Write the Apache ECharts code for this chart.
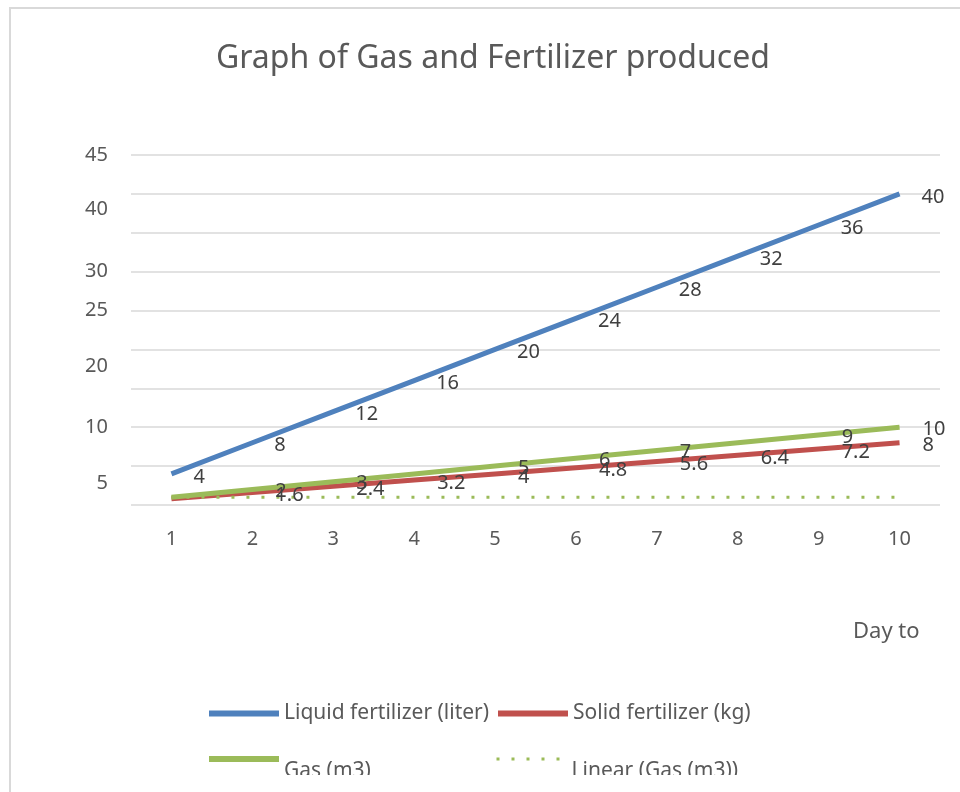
<!DOCTYPE html>
<html>
<head>
<meta charset="utf-8">
<script src="https://cdn.jsdelivr.net/npm/echarts@6/dist/echarts.min.js"></script>
<style>
  html, body { margin: 0; padding: 0; background: #fff; }
  #wrap { position: relative; width: 960px; height: 792px; overflow: hidden; }
  #chart { position: absolute; left: 0; top: 0; width: 960px; height: 775px; }
  #frame { position: absolute; left: 9px; top: 7px; width: 951px; height: 785px;
           border-left: 2px solid #d9d9d9; border-top: 2px solid #d9d9d9; pointer-events: none; }
</style>
</head>
<body>
<div id="wrap">
  <div id="chart"></div>
  <div id="frame"></div>
</div>
<script>
var days = ['1', '2', '3', '4', '5', '6', '7', '8', '9', '10'];
var liquid = [4, 8, 12, 16, 20, 24, 28, 32, 36, 40];
var solid = [0.8, 1.6, 2.4, 3.2, 4, 4.8, 5.6, 6.4, 7.2, 8];
var gas = [1, 2, 3, 4, 5, 6, 7, 8, 9, 10];
var gasLinear = [1, 1, 1, 1, 1, 1, 1, 1, 1, 1];

// y labels in the original sit a bit off the grid lines
var yLabelAt = [45, 38, 30, 25, 17.8, 10, 2.8];
var yLabelText = ['45', '40', '30', '25', '20', '10', '5'];

// data labels that are not shown in the original
var solidNoLabel = [0];
var gasNoLabel = [0, 3, 7];

var font = 'Noto Sans';
var labelStyle = function (skip, dist, off) {
    return {
        show: true,
        position: 'right',
        distance: dist,
        offset: off,
        fontFamily: font,
        fontSize: 20,
        color: '#404040',
        formatter: function (p) {
            return skip.indexOf(p.dataIndex) >= 0 ? '' : String(p.value);
        }
    };
};

// one legend per entry, laid out like the excel 2x2 block
var legendItem = function (name, left, top, width, low) {
    return {
        left: left,
        top: top,
        itemWidth: 70,
        itemHeight: 20,
        itemStyle: { opacity: 0 },
        lineStyle: { width: width },
        textStyle: { fontFamily: font, fontSize: 21, color: '#595959', lineHeight: low ? 24 : 20 },
        formatter: function (n) { return low ? '\n' + n : n; },
        data: [name]
    };
};

var chart = echarts.init(document.getElementById('chart'));
chart.setOption({
    animation: false,
    title: {
        text: 'Graph of Gas and Fertilizer produced',
        left: 211,
        top: 38,
        textStyle: { fontFamily: font, fontSize: 32, fontWeight: 'normal', color: '#595959' }
    },
    grid: { left: 131, right: 20, top: 155, bottom: 270 },
    legend: [
        legendItem('Liquid fertilizer (liter)', 201, 698, 6, false),
        legendItem('Solid fertilizer (kg)', 490, 698, 6, false),
        legendItem('Gas (m3)', 201, 730, 6, true),
        legendItem('Linear (Gas (m3))', 490, 730, 3, true)
    ],
    graphic: [{
        type: 'text',
        left: 853,
        top: 621,
        style: { text: 'Day to', font: '22px "Noto Sans"', fill: '#595959' }
    }],
    xAxis: {
        type: 'category',
        data: days,
        boundaryGap: true,
        axisLine: { show: false },
        axisTick: { show: false },
        axisLabel: { fontFamily: font, fontSize: 20, color: '#595959', margin: 24 }
    },
    yAxis: {
        type: 'value',
        min: 0,
        max: 45,
        interval: 5,
        axisLine: { show: false },
        axisTick: { show: false },
        splitLine: { lineStyle: { color: '#d9d9d9', width: 1.5 } },
        axisLabel: {
            customValues: yLabelAt,
            fontFamily: font,
            fontSize: 20,
            color: '#595959',
            margin: 23,
            formatter: function (v) {
                var i = yLabelAt.indexOf(v);
                return i >= 0 ? yLabelText[i] : '';
            }
        }
    },
    series: [
        {
            name: 'Liquid fertilizer (liter)',
            type: 'line',
            data: liquid,
            symbol: 'circle',
            symbolSize: 0,
            lineStyle: { color: '#4f81bd', width: 5 },
            itemStyle: { color: '#4f81bd' },
            label: labelStyle([], 22, [0, 3])
        },
        {
            name: 'Solid fertilizer (kg)',
            type: 'line',
            data: solid,
            symbol: 'circle',
            symbolSize: 0,
            lineStyle: { color: '#c0504d', width: 5 },
            itemStyle: { color: '#c0504d' },
            label: labelStyle(solidNoLabel, 23, [0, 3])
        },
        {
            name: 'Gas (m3)',
            type: 'line',
            data: gas,
            symbol: 'circle',
            symbolSize: 0,
            lineStyle: { color: '#9bbb59', width: 5 },
            itemStyle: { color: '#9bbb59' },
            label: labelStyle(gasNoLabel, 23, [0, 2])
        },
        {
            name: 'Linear (Gas (m3))',
            type: 'line',
            data: gasLinear,
            symbol: 'none',
            lineStyle: { color: '#9bbb59', width: 3, type: [3, 12] },
            itemStyle: { color: '#9bbb59' }
        }
    ]
});
</script>
</body>
</html>
